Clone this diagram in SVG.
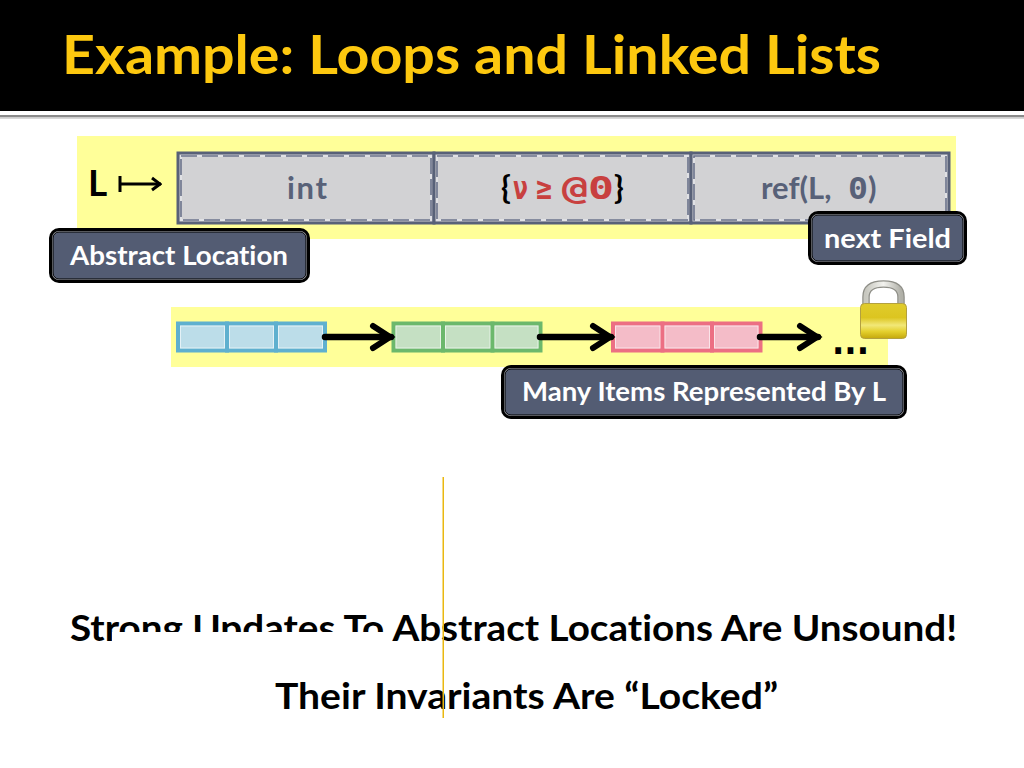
<svg xmlns="http://www.w3.org/2000/svg" width="1024" height="768" viewBox="0 0 1024 768">
<defs>
<linearGradient id="lockBody" x1="0" y1="0" x2="0" y2="1"><stop offset="0" stop-color="#e0cc2c"/><stop offset="0.4" stop-color="#dcc520"/><stop offset="0.62" stop-color="#f2e878"/><stop offset="0.8" stop-color="#e4d02e"/><stop offset="1" stop-color="#c4a80c"/></linearGradient>
<linearGradient id="shackle" x1="0" y1="0" x2="1" y2="0"><stop offset="0" stop-color="#c8c8c0"/><stop offset="0.5" stop-color="#f2f2ee"/><stop offset="1" stop-color="#b0b0a8"/></linearGradient>
<marker id="mapHead" markerUnits="userSpaceOnUse" markerWidth="14" markerHeight="16" refX="13" refY="8" orient="auto"><path d="M4 2L12 8L4 14" fill="none" stroke="#000" stroke-width="3"/></marker>
<marker id="bigHead" markerUnits="userSpaceOnUse" markerWidth="32" markerHeight="32" refX="25" refY="16" orient="auto"><path d="M7 5L24 16L7 27" fill="none" stroke="#000" stroke-width="6" stroke-linecap="round" stroke-linejoin="miter"/></marker>
</defs>
<style>
text{font-family:"Lato","Liberation Sans",sans-serif;font-weight:700;font-variant-ligatures:none}
.hl{fill:#ffff99}
.cell{fill:#d2d2d4;stroke:#586178;stroke-width:3}
.band{fill:none;stroke:#e2e3e7;stroke-width:1.800}
.dash{fill:none;stroke:#687088;stroke-width:1.600;stroke-dasharray:16 5}
.capi{fill:#535c73;stroke:#000;stroke-width:1}
.capm{fill:#aeb1ba}
.capo{fill:#000}
.capt{fill:#fff;font-size:27px}
.ct{fill:#586178;font-size:31px}
.mono{font-family:"DejaVu Sans Mono","Liberation Mono",monospace;font-weight:700}
.link{stroke:#000;stroke-width:6.500;stroke-linecap:round;fill:none;marker-end:url(#bigHead)}
.big{fill:#000;font-size:36px}
.b{fill:#bcdde9;stroke:#5fb0cf;stroke-width:4}
.g{fill:#c5e0c3;stroke:#6cb86c;stroke-width:4}
.p{fill:#f4bcc8;stroke:#ec6f83;stroke-width:4}
.in{fill:none;stroke:#fff;stroke-opacity:.6;stroke-width:1}
</style>
<rect width="1024" height="768" fill="#fff"/>
<g id="header">
<rect width="1024" height="111" fill="#000"/>
<rect y="115" width="1024" height="2.500" fill="#8a8a8a"/>
<rect y="117.500" width="1024" height="1.500" fill="#d8d8d8"/>
<text x="62" y="74" font-size="53" fill="#fdc80f" textLength="819" lengthAdjust="spacingAndGlyphs">Example: Loops and Linked Lists</text>
</g>
<rect class="hl" x="77" y="136" width="879" height="103"/>
<rect class="hl" x="171" y="307" width="717" height="60"/>
<g id="location-label"><text x="88" y="196" font-size="37" fill="#000">L</text></g>
<g id="cell-int">
<rect class="cell" x="178" y="153" width="256" height="70"/>
<rect class="band" x="181" y="156" width="250" height="64"/>
<rect class="dash" x="181" y="156" width="250" height="64"/>
<text class="ct" x="307" y="199" text-anchor="middle" textLength="40">int</text>
</g>
<g id="cell-refinement">
<rect class="cell" x="434" y="153" width="257" height="70"/>
<rect class="band" x="437" y="156" width="251" height="64"/>
<rect class="dash" x="437" y="156" width="251" height="64"/>
<text x="501" y="199" font-size="32" fill="#000">{<tspan class="mono" x="513" fill="#c8403f" textLength="15" lengthAdjust="spacingAndGlyphs">ν</tspan><tspan class="mono" x="536" fill="#c8403f" textLength="16" lengthAdjust="spacingAndGlyphs">≥</tspan><tspan class="mono" x="562" fill="#c8403f" textLength="52" lengthAdjust="spacingAndGlyphs">@0</tspan><tspan x="614">}</tspan></text>
</g>
<g id="cell-ref">
<rect class="cell" x="691" y="153" width="258" height="70"/>
<rect class="band" x="694" y="156" width="252" height="64"/>
<rect class="dash" x="694" y="156" width="252" height="64"/>
<text x="761" y="199" font-size="31" fill="#586178">ref(L,<tspan class="mono" x="848" textLength="20" lengthAdjust="spacingAndGlyphs">0</tspan><tspan x="868">)</tspan></text>
</g>
<g id="abstract-location">
<rect class="capo" x="49" y="228" width="261" height="55" rx="10"/>
<rect class="capm" x="52" y="231" width="255" height="49" rx="7"/>
<rect class="capi" x="53" y="232" width="253" height="47" rx="6"/>
<text class="capt" x="70" y="265" textLength="218" lengthAdjust="spacingAndGlyphs">Abstract Location</text>
</g>
<g id="next-field">
<rect class="capo" x="808" y="211" width="159" height="54" rx="10"/>
<rect class="capm" x="811" y="214" width="153" height="48" rx="7"/>
<rect class="capi" x="812" y="215" width="151" height="46" rx="6"/>
<text class="capt" x="824" y="248" textLength="127" lengthAdjust="spacingAndGlyphs">next Field</text>
</g>
<g id="item-blue">
<rect class="b" x="178" y="323.500" width="49" height="27"/><rect class="b" x="227" y="323.500" width="49" height="27"/><rect class="b" x="276" y="323.500" width="49" height="27"/>
<rect class="in" x="180.500" y="326" width="44" height="22"/><rect class="in" x="229.500" y="326" width="44" height="22"/><rect class="in" x="278.500" y="326" width="44" height="22"/>
</g>
<g id="item-green">
<rect class="g" x="393.500" y="323.500" width="49.500" height="27"/><rect class="g" x="443" y="323.500" width="49.500" height="27"/><rect class="g" x="492.500" y="323.500" width="48" height="27"/>
<rect class="in" x="396" y="326" width="44.500" height="22"/><rect class="in" x="445.500" y="326" width="44.500" height="22"/><rect class="in" x="495" y="326" width="43" height="22"/>
</g>
<g id="item-pink">
<rect class="p" x="613" y="323.500" width="49.500" height="27"/><rect class="p" x="662.500" y="323.500" width="49.500" height="27"/><rect class="p" x="712" y="323.500" width="48.500" height="27"/>
<rect class="in" x="615.500" y="326" width="44.500" height="22"/><rect class="in" x="665" y="326" width="44.500" height="22"/><rect class="in" x="714.500" y="326" width="43.500" height="22"/>
</g>
<g id="connectors">
<path d="M120 176V192M120 184H161" fill="none" stroke="#000" stroke-width="3" marker-end="url(#mapHead)"/>
<path class="link" d="M325 337H391"/>
<path class="link" d="M540 337H611"/>
<path class="link" d="M760 337H818"/>
</g>
<g id="ellipsis">
<text x="832" y="354" font-size="36" fill="#000" style="font-family:'DejaVu Sans',sans-serif" textLength="37" lengthAdjust="spacingAndGlyphs">...</text>
</g>
<g id="lock">
<path d="M866 306V297Q866 284 883.500 284Q901 284 901 297V306" fill="none" stroke="#8f8f88" stroke-width="7.500"/>
<path d="M866 306V297Q866 284 883.500 284Q901 284 901 297V306" fill="none" stroke="url(#shackle)" stroke-width="5"/>
<rect x="860.500" y="303.500" width="46" height="35" rx="4" fill="url(#lockBody)" stroke="#b3a040" stroke-width="1"/>
</g>
<g id="many-items">
<rect class="capo" x="501" y="365" width="406" height="54" rx="10"/>
<rect class="capm" x="504" y="368" width="400" height="48" rx="7"/>
<rect class="capi" x="505" y="369" width="398" height="46" rx="6"/>
<text class="capt" x="522" y="401" textLength="364" lengthAdjust="spacingAndGlyphs">Many Items Represented By L</text>
</g>
<g id="conclusion">
<text class="big" x="70" y="641" textLength="887" lengthAdjust="spacingAndGlyphs">Strong Updates To Abstract Locations Are Unsound!</text>
<rect x="112" y="632" width="275" height="22" fill="#fff"/>
<text class="big" x="275" y="709" textLength="503" lengthAdjust="spacingAndGlyphs">Their Invariants Are “Locked”</text>
<rect x="442.500" y="477" width="1.500" height="241" fill="#eab810"/>
</g>
</svg>
